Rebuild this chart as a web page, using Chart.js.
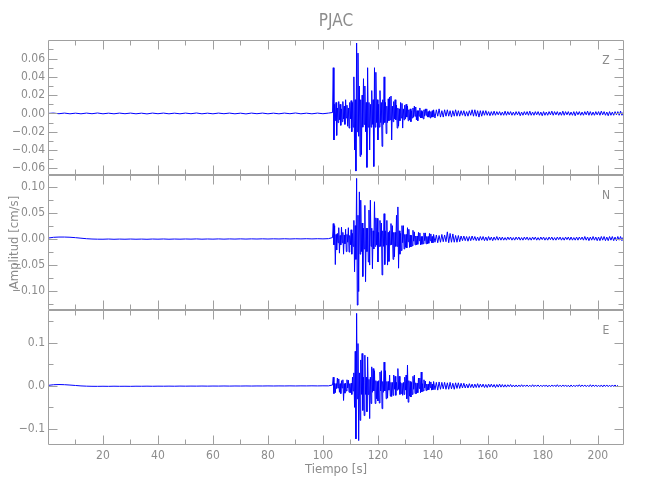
<!DOCTYPE html>
<html>
<head>
<meta charset="utf-8">
<script src="https://cdn.jsdelivr.net/npm/chart.js@4/dist/chart.umd.min.js"></script>
<style>
  html, body { margin: 0; padding: 0; background: #fff; }
  #wrap { width: 650px; height: 500px; }
</style>
</head>
<body>
<div id="wrap"><canvas id="seismo" width="650" height="500"></canvas></div>
<script>
// sampling of the pieces of each trace (seconds)
const QUIET_START = 0, QUIET_STEP = 2;
const WAVE_START = 103.5, WAVE_STEP = 0.25;
const CODA_START = 140.25, CODA_STEP = 0.5;

// --- Z component ---
const zQuiet = [0.0000, 0.0004, -0.0003, 0.0004, -0.0004, 0.0003, -0.0004, 0.0004, -0.0003, 0.0005,
  -0.0004, 0.0003, -0.0004, 0.0004, -0.0003, 0.0004, -0.0004, 0.0003, -0.0005, 0.0004,
  -0.0003, 0.0004, -0.0004, 0.0003, -0.0004, 0.0004, -0.0003, 0.0005, -0.0004, 0.0003,
  -0.0004, 0.0004, -0.0003, 0.0004, -0.0004, 0.0003, -0.0005, 0.0004, -0.0003, 0.0004,
  -0.0004, 0.0003, -0.0004, 0.0004, -0.0003, 0.0005, -0.0004, 0.0003, -0.0004, 0.0004,
  -0.0003, 0.0004];
const zWave = [0.001, 0.050,
  -0.029, 0.010, -0.008, 0.012,   -0.024, 0.006, -0.010, 0.013,
  -0.007, 0.010, -0.013, 0.005,   -0.009, 0.013, -0.006, 0.008,
  -0.012, 0.015, -0.005, 0.009,   -0.014, 0.006, -0.016, 0.012,
  -0.006, 0.014, -0.020, 0.012,   -0.015, 0.040, -0.040, 0.015,
  -0.063, 0.077, -0.020, 0.066,   -0.025, 0.030, -0.047, 0.015,
  -0.045, 0.020, -0.015, 0.038,   -0.012, 0.030, -0.020, 0.012,
  -0.059, 0.050, -0.015, 0.012,   -0.040, 0.010, -0.015, 0.025,
  -0.012, 0.015, -0.058, 0.050,   -0.015, 0.045, -0.010, 0.015,
  -0.029, 0.010, -0.015, 0.025,   -0.010, 0.012, -0.036, 0.015,
  -0.012, 0.040, -0.010, 0.012,   -0.022, 0.008, -0.010, 0.016,
  -0.008, 0.018, -0.007, 0.019,   -0.029, 0.008, -0.009, 0.013,
  -0.006, 0.015, -0.007, 0.009,   -0.016, 0.006, -0.014, 0.005,
  -0.008, 0.012, -0.005, 0.011,   -0.016, 0.005, -0.007, 0.009,
  -0.006, 0.010, -0.004, 0.008,   -0.008, 0.004, -0.007, 0.005,
  -0.009, 0.003, -0.005, 0.006,   -0.004, 0.008, -0.003, 0.007,
  -0.007, 0.003, -0.008, 0.003,   -0.003, 0.006, -0.005, 0.003,
  -0.005, 0.002, -0.006, 0.004,   -0.003, 0.005, -0.002, 0.005,
  -0.004, 0.002, -0.004, 0.003,   -0.005, 0.002, -0.004, 0.003,
  -0.004];
const zCoda = [0.004, -0.005, 0.004, -0.003, 0.005, -0.004, 0.003, -0.004, 0.004, -0.003,
  0.004, -0.003, 0.003, -0.004, 0.003, -0.003, 0.004, -0.003, 0.003, -0.003,
  0.003, -0.002, 0.003, -0.003, 0.002, -0.003, 0.003, -0.002, 0.004, -0.003,
  0.004, -0.003, 0.003, -0.004, 0.003, -0.003, 0.003, -0.002, 0.003, -0.002,
  0.002, -0.0025, 0.002, -0.002, 0.0025, -0.002, 0.002, -0.0015, 0.002, -0.002,
  0.0015, -0.002, 0.0025, -0.002, 0.002, -0.0015, 0.002, -0.002, 0.0015, -0.002,
  0.002, -0.0015, 0.002, -0.0025, 0.0015, -0.002, 0.002, -0.0015, 0.002, -0.002,
  0.0025, -0.002, 0.0015, -0.002, 0.002, -0.0015, 0.002, -0.002, 0.0015, -0.0025,
  0.002, -0.002, 0.0015, -0.002, 0.002, -0.0015, 0.0025, -0.002, 0.002, -0.0015,
  0.002, -0.002, 0.0015, -0.002, 0.0025, -0.002, 0.002, -0.0015, 0.002, -0.002,
  0.0015, -0.002, 0.002, -0.0025, 0.002, -0.0015, 0.002, -0.002, 0.0015, -0.002,
  0.002, -0.0015, 0.0025, -0.002, 0.002, -0.002, 0.0015, -0.002, 0.002, -0.0015,
  0.002, -0.002, 0.0025, -0.0015, 0.002, -0.002, 0.0015, -0.0025, 0.002, -0.002,
  0.0015, -0.002, 0.002, -0.0015, 0.002, -0.002, 0.0025, -0.002, 0.0015];

// --- N component ---
const nQuiet = [0.0010, 0.0025, 0.0030, 0.0030, 0.0026, 0.0018, 0.0008, -0.0002, -0.0008, -0.0011,
  -0.0012, -0.0008, -0.0013, -0.0009, -0.0012, -0.0008, -0.0012, -0.0009, -0.0013, -0.0008,
  -0.0011, -0.0007, -0.0012, -0.0008, -0.0011, -0.0007, -0.0010, -0.0006, -0.0011, -0.0007,
  -0.0010, -0.0006, -0.0010, -0.0006, -0.0009, -0.0005, -0.0009, -0.0005, -0.0008, -0.0004,
  -0.0008, -0.0004, -0.0007, -0.0003, -0.0007, -0.0003, -0.0006, -0.0002, -0.0006, -0.0002,
  -0.0005, -0.0001];
const nWave = [0.002, 0.029,
  -0.012, 0.025, -0.050, 0.008,   -0.022, 0.010, -0.008, 0.021,
  -0.028, 0.006, -0.012, 0.022,   -0.008, 0.012, -0.030, 0.007,
  -0.010, 0.018, -0.025, 0.008,   -0.007, 0.021, -0.026, 0.006,
  -0.012, 0.017, -0.030, 0.010,   -0.015, 0.035, -0.064, 0.025,
  -0.040, 0.116, -0.128, 0.045,   -0.102, 0.090, -0.030, 0.074,
  -0.025, 0.030, -0.073, 0.020,   -0.020, 0.064, -0.083, 0.020,
  -0.025, 0.020, -0.045, 0.055,   -0.051, 0.074, -0.015, 0.020,
  -0.058, 0.015, -0.020, 0.071,   -0.015, 0.040, -0.012, 0.039,
  -0.045, 0.012, -0.015, 0.035,   -0.015, 0.030, -0.070, 0.015,
  -0.015, 0.048, -0.050, 0.015,   -0.012, 0.035, -0.051, 0.012,
  -0.044, 0.015, -0.012, 0.029,   -0.012, 0.025, -0.040, 0.012,
  -0.035, 0.012, -0.015, 0.045,   -0.015, 0.061, -0.057, 0.015,
  -0.030, 0.010, -0.023, 0.025,   -0.008, 0.025, -0.020, 0.008,
  -0.017, 0.008, -0.018, 0.021,   -0.006, 0.018, -0.017, 0.007,
  -0.016, 0.006, -0.014, 0.016,   -0.005, 0.013, -0.012, 0.005,
  -0.012, 0.005, -0.011, 0.012,   -0.004, 0.011, -0.012, 0.004,
  -0.011, 0.004, -0.010, 0.011,   -0.004, 0.011, -0.010, 0.004,
  -0.010, 0.004, -0.009, 0.010,   -0.004, 0.009, -0.008, 0.004,
  -0.008];
const nCoda = [0.008, -0.007, 0.007, -0.008, 0.006, -0.007, 0.008, -0.006, 0.007, -0.006,
  0.013, -0.008, 0.010, -0.007, 0.009, -0.007, 0.006, -0.007, 0.006, -0.006,
  0.005, -0.004, 0.005, -0.004, 0.004, -0.005, 0.004, -0.004, 0.005, -0.003,
  0.004, -0.004, 0.003, -0.004, 0.004, -0.003, 0.004, -0.004, 0.003, -0.004,
  0.004, -0.003, 0.003, -0.004, 0.003, -0.003, 0.004, -0.003, 0.003, -0.003,
  0.003, -0.003, 0.002, -0.003, 0.003, -0.002, 0.003, -0.003, 0.002, -0.003,
  0.003, -0.002, 0.003, -0.003, 0.002, -0.003, 0.003, -0.002, 0.003, -0.003,
  0.002, -0.003, 0.003, -0.002, 0.003, -0.003, 0.002, -0.003, 0.003, -0.002,
  0.003, -0.003, 0.002, -0.003, 0.003, -0.002, 0.003, -0.003, 0.002, -0.003,
  0.003, -0.002, 0.003, -0.003, 0.002, -0.003, 0.003, -0.002, 0.003, -0.003,
  0.003, -0.003, 0.002, -0.003, 0.003, -0.003, 0.003, -0.002, 0.003, -0.003,
  0.004, -0.003, 0.003, -0.004, 0.003, -0.003, 0.004, -0.003, 0.003, -0.004,
  0.003, -0.004, 0.004, -0.003, 0.004, -0.004, 0.003, -0.004, 0.004, -0.003,
  0.004, -0.004, 0.003, -0.004, 0.004, -0.003, 0.004, -0.004, 0.003];

// --- E component ---
const eQuiet = [0.0010, 0.0025, 0.0030, 0.0026, 0.0018, 0.0008, -0.0002, -0.0008, -0.0011, -0.0012,
  -0.0010, -0.0012, -0.0009, -0.0011, -0.0010, -0.0012, -0.0009, -0.0010, -0.0008, -0.0010,
  -0.0008, -0.0009, -0.0007, -0.0009, -0.0006, -0.0008, -0.0006, -0.0007, -0.0005, -0.0007,
  -0.0005, -0.0006, -0.0004, -0.0006, -0.0004, -0.0005, -0.0003, -0.0005, -0.0003, -0.0004,
  -0.0002, -0.0004, -0.0002, -0.0003, -0.0001, -0.0003, -0.0001, -0.0002, 0.0000, -0.0002,
  0.0000, -0.0001];
const eWave = [0.002, 0.020,
  -0.018, 0.006, -0.016, 0.005,   -0.006, 0.018, -0.005, 0.016,
  -0.015, 0.005, -0.018, 0.012,   -0.005, 0.014, -0.034, 0.005,
  -0.017, 0.006, -0.012, 0.014,   -0.005, 0.013, -0.015, 0.005,
  -0.016, 0.006, -0.020, 0.020,   -0.012, 0.030, -0.050, 0.080,
  -0.123, 0.168, -0.030, 0.098,   -0.127, 0.030, -0.080, 0.060,
  -0.020, 0.075, -0.057, 0.020,   -0.069, 0.071, -0.020, 0.020,
  -0.060, 0.067, -0.020, 0.015,   -0.076, 0.020, -0.041, 0.044,
  -0.015, 0.040, -0.012, 0.035,   -0.041, 0.012, -0.030, 0.010,
  -0.035, 0.012, -0.040, 0.032,   -0.012, 0.035, -0.053, 0.010,
  -0.015, 0.055, -0.012, 0.035,   -0.030, 0.010, -0.028, 0.010,
  -0.010, 0.025, -0.024, 0.008,   -0.025, 0.008, -0.022, 0.025,
  -0.008, 0.022, -0.022, 0.008,   -0.010, 0.040, -0.008, 0.022,
  -0.020, 0.008, -0.018, 0.006,   -0.022, 0.008, -0.020, 0.020,
  -0.010, 0.025, -0.030, 0.048,   -0.038, 0.012, -0.024, 0.010,
  -0.026, 0.008, -0.020, 0.022,   -0.008, 0.025, -0.018, 0.007,
  -0.018, 0.006, -0.016, 0.018,   -0.006, 0.018, -0.016, 0.032,
  -0.014, 0.005, -0.012, 0.014,   -0.005, 0.011, -0.011, 0.004,
  -0.010, 0.004, -0.009, 0.010,   -0.004, 0.009, -0.010, 0.004,
  -0.009];
const eCoda = [0.010, -0.009, 0.008, -0.010, 0.009, -0.008, 0.008, -0.007, 0.008, -0.008,
  0.007, -0.008, 0.008, -0.007, 0.006, -0.008, 0.007, -0.006, 0.007, -0.006,
  0.006, -0.005, 0.006, -0.005, 0.004, -0.005, 0.005, -0.004, 0.004, -0.005,
  0.004, -0.004, 0.005, -0.004, 0.004, -0.003, 0.004, -0.004, 0.003, -0.004,
  0.004, -0.003, 0.004, -0.003, 0.003, -0.004, 0.003, -0.003, 0.004, -0.003,
  0.003, -0.003, 0.0025, -0.003, 0.0025, -0.002, 0.003, -0.0025, 0.002, -0.0025,
  0.002, -0.0025, 0.002, -0.002, 0.0025, -0.002, 0.002, -0.0015, 0.002, -0.002,
  0.0015, -0.002, 0.0025, -0.002, 0.002, -0.0015, 0.002, -0.002, 0.0015, -0.002,
  0.002, -0.0015, 0.002, -0.0025, 0.0015, -0.002, 0.002, -0.0015, 0.002, -0.002,
  0.0025, -0.002, 0.0015, -0.002, 0.002, -0.0015, 0.002, -0.002, 0.0015, -0.0025,
  0.002, -0.002, 0.0015, -0.002, 0.002, -0.0015, 0.0025, -0.002, 0.002, -0.0015,
  0.002, -0.002, 0.0015, -0.002, 0.0025, -0.002, 0.002, -0.0015, 0.002, -0.002,
  0.0015, -0.002, 0.002, -0.0025, 0.002, -0.0015, 0.002, -0.002, 0.0015, -0.002,
  0.002, -0.0015, 0.002, -0.002, 0.0015];

// axis ranges and ticks
const xRange = [0, 209.5];
const xMajor = [20, 40, 60, 80, 100, 120, 140, 160, 180, 200];
const xMinor = [10, 30, 50, 70, 90, 110, 130, 150, 170, 190];
const zRange = [-0.0673, 0.0803];
const zMajor = [-0.06, -0.04, -0.02, 0.00, 0.02, 0.04, 0.06];
const zMinor = [-0.05, -0.03, -0.01, 0.01, 0.03, 0.05, 0.07];
const nRange = [-0.1375, 0.1225];
const nMajor = [-0.10, -0.05, 0.00, 0.05, 0.10];
const nMinor = [-0.125, -0.075, -0.025, 0.025, 0.075];
const eRange = [-0.1372, 0.1758];
const eMajor = [-0.1, 0.0, 0.1];
const eMinor = [-0.05, 0.05, 0.15];

const channels = ['Z', 'N', 'E'];
const stationName = 'PJAC';
const xTitle = 'Tiempo [s]';
const yTitle = 'Amplitud [cm/s]';

const FONT = "'Liberation Sans Narrow', 'DejaVu Sans Condensed', 'Liberation Sans', sans-serif";
const TEXT = '#8c8c8c';
const AXIS = '#a0a0a0';
const TRACE = '#0000ff';

function buildTrace(quiet, wave, coda) {
  const pts = [];
  quiet.forEach((v, i) => pts.push({ x: QUIET_START + i * QUIET_STEP, y: v }));
  wave.forEach((v, i) => pts.push({ x: WAVE_START + i * WAVE_STEP, y: v }));
  coda.forEach((v, i) => pts.push({ x: CODA_START + i * CODA_STEP, y: v }));
  return pts;
}

function minus(s) { return s.replace('-', '\u2212'); }

function yScale(range, major, digits, weight) {
  return {
    type: 'linear',
    position: 'left',
    stack: 'traces',
    stackWeight: 1,
    weight: weight,
    min: range[0],
    max: range[1],
    grid: { display: false, drawTicks: false },
    border: { display: false },
    afterFit: s => { s.width = 48; },
    afterBuildTicks: s => { s.ticks = major.map(v => ({ value: v })); },
    ticks: {
      autoSkip: false,
      padding: 3,
      color: TEXT,
      font: { family: FONT, size: 12 },
      callback: v => minus(Number(v).toFixed(digits))
    }
  };
}

// frame + inward ticks on every side of each panel, plus the labels
const framePlugin = {
  id: 'frames',
  afterDatasetsDraw(chart) {
    const ctx = chart.ctx;
    const ca = chart.chartArea;
    const xs = chart.scales.x;
    const panels = [
      [chart.scales.yZ, zMajor, zMinor],
      [chart.scales.yN, nMajor, nMinor],
      [chart.scales.yE, eMajor, eMinor]
    ];
    ctx.save();
    ctx.strokeStyle = AXIS;
    ctx.lineWidth = 1;
    ctx.beginPath();
    panels.forEach(([ys, maj, mnr]) => {
      const top = Math.round(ys.top) + 0.5;
      const bot = Math.round(ys.bottom) - 0.5;
      const l = Math.round(ca.left) + 0.5;
      const r = Math.round(ca.right) - 0.5;
      ctx.rect(l, top, r - l, bot - top);
      const yTick = (v, len) => {
        const p = Math.round(ys.getPixelForValue(v)) + 0.5;
        if (p < top || p > bot) return;
        ctx.moveTo(l, p); ctx.lineTo(l + len, p);
        ctx.moveTo(r, p); ctx.lineTo(r - len, p);
      };
      maj.forEach(v => yTick(v, 9));
      mnr.forEach(v => yTick(v, 5));
      const xTick = (v, len) => {
        const p = Math.round(xs.getPixelForValue(v)) + 0.5;
        ctx.moveTo(p, top); ctx.lineTo(p, top + len);
        ctx.moveTo(p, bot); ctx.lineTo(p, bot - len);
      };
      xMajor.forEach(v => xTick(v, 9));
      xMinor.forEach(v => xTick(v, 5));
    });
    ctx.stroke();

    ctx.fillStyle = TEXT;
    ctx.textAlign = 'center';
    ctx.textBaseline = 'middle';
    ctx.font = '12px ' + FONT;
    panels.forEach(([ys], i) => {
      ctx.fillText(channels[i], ca.right - 18, ys.top + 21);
    });
    ctx.font = '13px ' + FONT;
    ctx.fillText(xTitle, (ca.left + ca.right) / 2, 470);
    ctx.font = '17px ' + FONT;
    ctx.fillText(stationName, (ca.left + ca.right) / 2, 22);
    ctx.save();
    ctx.translate(15, (chart.scales.yN.top + chart.scales.yN.bottom) / 2);
    ctx.rotate(-Math.PI / 2);
    ctx.font = '13px ' + FONT;
    ctx.fillText(yTitle, 0, 0);
    ctx.restore();
    ctx.restore();
  }
};

const lineStyle = {
  borderColor: TRACE,
  borderWidth: 1,
  pointRadius: 0,
  tension: 0,
  fill: false
};

new Chart(document.getElementById('seismo'), {
  type: 'line',
  data: {
    datasets: [
      Object.assign({ label: channels[0], data: buildTrace(zQuiet, zWave, zCoda), yAxisID: 'yZ' }, lineStyle),
      Object.assign({ label: channels[1], data: buildTrace(nQuiet, nWave, nCoda), yAxisID: 'yN' }, lineStyle),
      Object.assign({ label: channels[2], data: buildTrace(eQuiet, eWave, eCoda), yAxisID: 'yE' }, lineStyle)
    ]
  },
  options: {
    responsive: false,
    animation: false,
    layout: { padding: { top: 40, right: 26, left: 0, bottom: 0 } },
    plugins: { legend: { display: false }, title: { display: false }, tooltip: { enabled: false } },
    scales: {
      x: {
        type: 'linear',
        min: xRange[0],
        max: xRange[1],
        grid: { display: false, drawTicks: false },
        border: { display: false },
        afterFit: s => { s.height = 55; },
        afterBuildTicks: s => { s.ticks = xMajor.map(v => ({ value: v })); },
        ticks: {
          autoSkip: false,
          maxRotation: 0,
          padding: 4,
          color: TEXT,
          font: { family: FONT, size: 12 },
          callback: v => String(v)
        }
      },
      yZ: yScale(zRange, zMajor, 2, 3),
      yN: yScale(nRange, nMajor, 2, 2),
      yE: yScale(eRange, eMajor, 1, 1)
    }
  },
  plugins: [framePlugin]
});
</script>
</body>
</html>
